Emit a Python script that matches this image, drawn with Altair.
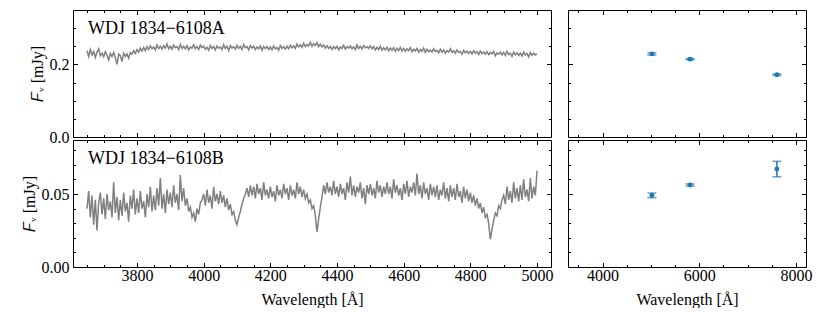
import altair as alt
import pandas as pd

FONT = "Liberation Serif"
GRAY = "#808080"
BLUE = "#1f77b4"

# ---------------- data ----------------
wl_start = 3650
wl_step = 5

flux_a = [
    0.238, 0.222, 0.241, 0.226, 0.236, 0.219, 0.234, 0.243, 0.224, 0.231,
    0.221, 0.235, 0.226, 0.212, 0.230, 0.222, 0.233, 0.218, 0.200, 0.228,
    0.224, 0.208, 0.231, 0.222, 0.229, 0.217, 0.233, 0.228, 0.238, 0.230,
    0.241, 0.234, 0.245, 0.237, 0.247, 0.238, 0.249, 0.241, 0.251, 0.243,
    0.248, 0.240, 0.254, 0.244, 0.250, 0.242, 0.252, 0.245, 0.256, 0.243,
    0.250, 0.242, 0.253, 0.246, 0.249, 0.241, 0.255, 0.244, 0.250, 0.243,
    0.252, 0.240, 0.248, 0.245, 0.254, 0.243, 0.249, 0.241, 0.253, 0.246,
    0.250, 0.242, 0.247, 0.239, 0.252, 0.244, 0.249, 0.240, 0.251, 0.245,
    0.248, 0.241, 0.254, 0.244, 0.250, 0.238, 0.252, 0.245, 0.249, 0.242,
    0.253, 0.244, 0.250, 0.241, 0.255, 0.246, 0.249, 0.240, 0.252, 0.245,
    0.250, 0.241, 0.248, 0.243, 0.251, 0.239, 0.249, 0.244, 0.250, 0.241,
    0.248, 0.240, 0.251, 0.243, 0.247, 0.239, 0.252, 0.244, 0.249, 0.242,
    0.250, 0.243, 0.253, 0.246, 0.251, 0.244, 0.256, 0.248, 0.254, 0.247,
    0.258, 0.249, 0.255, 0.251, 0.261, 0.250, 0.257, 0.252, 0.260, 0.249,
    0.256, 0.248, 0.254, 0.245, 0.252, 0.244, 0.250, 0.241, 0.249, 0.243,
    0.250, 0.240, 0.248, 0.244, 0.253, 0.242, 0.249, 0.245, 0.251, 0.243,
    0.248, 0.241, 0.254, 0.244, 0.250, 0.243, 0.252, 0.246, 0.249, 0.244,
    0.251, 0.243, 0.249, 0.240, 0.247, 0.241, 0.250, 0.239, 0.246, 0.240,
    0.248, 0.238, 0.245, 0.239, 0.246, 0.236, 0.244, 0.238, 0.247, 0.237,
    0.244, 0.236, 0.243, 0.238, 0.246, 0.235, 0.242, 0.237, 0.244, 0.234,
    0.241, 0.236, 0.245, 0.233, 0.242, 0.235, 0.240, 0.234, 0.243, 0.236,
    0.239, 0.232, 0.242, 0.234, 0.240, 0.231, 0.238, 0.234, 0.243, 0.233,
    0.238, 0.231, 0.240, 0.233, 0.236, 0.228, 0.239, 0.232, 0.237, 0.230,
    0.236, 0.229, 0.238, 0.231, 0.235, 0.227, 0.237, 0.230, 0.234, 0.228,
    0.235, 0.227, 0.233, 0.229, 0.236, 0.224, 0.232, 0.228, 0.234, 0.226,
    0.233, 0.225, 0.236, 0.227, 0.231, 0.222, 0.234, 0.226, 0.232, 0.225,
    0.231, 0.223, 0.234, 0.226, 0.230, 0.221, 0.233, 0.225, 0.231, 0.226,
    0.229,
]

flux_b = [
    0.040, 0.052, 0.034, 0.049, 0.029, 0.046, 0.025, 0.044, 0.051, 0.036,
    0.047, 0.033, 0.050, 0.039, 0.045, 0.034, 0.058, 0.037, 0.048, 0.032,
    0.046, 0.035, 0.051, 0.038, 0.044, 0.031, 0.049, 0.040, 0.053, 0.036,
    0.047, 0.037, 0.052, 0.040, 0.045, 0.034, 0.050, 0.041, 0.055, 0.038,
    0.049, 0.039, 0.054, 0.042, 0.061, 0.040, 0.050, 0.037, 0.053, 0.043,
    0.051, 0.041, 0.056, 0.044, 0.050, 0.039, 0.063, 0.045, 0.054, 0.042,
    0.047, 0.038, 0.041, 0.034, 0.037, 0.031, 0.040, 0.036, 0.044, 0.046,
    0.050, 0.042, 0.053, 0.044, 0.049, 0.040, 0.055, 0.045, 0.050, 0.043,
    0.052, 0.044, 0.049, 0.041, 0.047, 0.039, 0.043, 0.036, 0.038, 0.032,
    0.029, 0.034, 0.038, 0.043, 0.047, 0.050, 0.054, 0.048, 0.056, 0.049,
    0.055, 0.047, 0.057, 0.050, 0.054, 0.046, 0.058, 0.049, 0.053, 0.047,
    0.055, 0.048, 0.052, 0.045, 0.056, 0.049, 0.053, 0.047, 0.057, 0.050,
    0.054, 0.046, 0.056, 0.049, 0.053, 0.047, 0.058, 0.050, 0.055, 0.048,
    0.053, 0.047, 0.050, 0.044, 0.046, 0.040, 0.042, 0.035, 0.024, 0.033,
    0.041, 0.048, 0.056, 0.050, 0.058, 0.051, 0.055, 0.049, 0.059, 0.050,
    0.055, 0.048, 0.057, 0.050, 0.054, 0.046, 0.058, 0.051, 0.062, 0.049,
    0.056, 0.048, 0.055, 0.051, 0.058, 0.047, 0.054, 0.043, 0.056, 0.050,
    0.057, 0.049, 0.054, 0.047, 0.059, 0.051, 0.056, 0.048, 0.055, 0.050,
    0.058, 0.050, 0.055, 0.047, 0.060, 0.051, 0.056, 0.049, 0.054, 0.046,
    0.057, 0.050, 0.059, 0.048, 0.055, 0.051, 0.058, 0.049, 0.064, 0.050,
    0.056, 0.047, 0.058, 0.050, 0.054, 0.046, 0.057, 0.049, 0.055, 0.048,
    0.056, 0.046, 0.053, 0.049, 0.058, 0.047, 0.054, 0.045, 0.056, 0.048,
    0.054, 0.046, 0.057, 0.048, 0.052, 0.044, 0.055, 0.047, 0.053, 0.045,
    0.051, 0.044, 0.049, 0.042, 0.047, 0.040, 0.044, 0.037, 0.041, 0.034,
    0.036, 0.030, 0.019, 0.026, 0.032, 0.037, 0.035, 0.042, 0.040, 0.046,
    0.049, 0.043, 0.055, 0.046, 0.052, 0.044, 0.058, 0.047, 0.054, 0.045,
    0.056, 0.046, 0.060, 0.048, 0.053, 0.045, 0.061, 0.047, 0.055, 0.049,
    0.066,
]

wavelength = [wl_start + wl_step * i for i in range(len(flux_a))]

phot_wl = [5020, 5810, 7605]
phot_a = [0.2290, 0.2145, 0.1715]
err_a = [0.0030, 0.0018, 0.0020]
phot_b = [0.0491, 0.0562, 0.0671]
err_b = [0.0016, 0.0007, 0.0053]

labels = ["WDJ 1834\u22126108A", "WDJ 1834\u22126108B"]

# axis / scale settings
spec_x_domain = [3608, 5042]
phot_x_domain = [3285, 8207]
ya_domain = [0, 0.35]
yb_domain = [0, 0.087]

spec_major = [3800, 4000, 4200, 4400, 4600, 4800, 5000]
spec_minor = [3650 + 50 * i for i in range(28)]
phot_major = [4000, 6000, 8000]
phot_minor = [3500 + 500 * i for i in range(10)]
ya_major = [0.0, 0.2]
ya_minor = [0.05, 0.10, 0.15, 0.25, 0.30]
yb_major = [0.0, 0.05]
yb_minor = [0.01, 0.02, 0.03, 0.04, 0.06, 0.07, 0.08]

MAJ = 4.5
MIN = 2.5
W_SPEC, W_PHOT, H = 478, 238, 127


def tick_axis(orient, values, size, labels=False, fmt=None, title=None,
              title_pad=4, label_pad=4):
    kw = dict(orient=orient, values=values, tickSize=size, offset=-size,
              domain=False, grid=False, labels=labels, ticks=True,
              tickColor="black", tickWidth=1, minExtent=0)
    if labels:
        kw["labelPadding"] = label_pad
        kw["labelFont"] = FONT
        kw["labelFontSize"] = 16
        kw["labelColor"] = "black"
        if fmt:
            kw["format"] = fmt
    if title:
        kw["title"] = title
        kw["titlePadding"] = title_pad
        kw["titleFont"] = FONT
        kw["titleFontSize"] = 16
        kw["titleFontWeight"] = "normal"
        kw["titleColor"] = "black"
    else:
        kw["title"] = None
    return alt.Axis(**kw)


def axes_sets(xmaj, xmin, ymaj, ymin, show_x_labels, show_y_labels, yfmt):
    return [
        (tick_axis("bottom", xmaj, MAJ, labels=show_x_labels, fmt="d",
                   title="Wavelength [\u00c5]" if show_x_labels else None,
                   label_pad=0, title_pad=8),
         tick_axis("left", ymaj, MAJ, labels=show_y_labels, fmt=yfmt,
                   title="\U0001D439\u1D65 [mJy]" if show_y_labels else None,
                   label_pad=4, title_pad=4)),
        (tick_axis("bottom", xmin, MIN), tick_axis("left", ymin, MIN)),
        (tick_axis("top", xmaj, MAJ), tick_axis("right", ymaj, MAJ)),
        (tick_axis("top", xmin, MIN), tick_axis("right", ymin, MIN)),
    ]


def spec_panel(flux, ydom, ymaj, ymin, yfmt, label, bottom):
    df = pd.DataFrame({"wl": wavelength, "flux": flux})
    xs = alt.Scale(domain=spec_x_domain, nice=False, zero=False)
    ys = alt.Scale(domain=ydom, nice=False, zero=False)
    sets = axes_sets(spec_major, spec_minor, ymaj, ymin, bottom, True, yfmt)
    layers = []
    line = alt.Chart(df).mark_line(color=GRAY, strokeWidth=1.5, clip=True).encode(
        x=alt.X("wl:Q", scale=xs, axis=sets[0][0]),
        y=alt.Y("flux:Q", scale=ys, axis=sets[0][1]),
    )
    layers.append(line)
    for xa, ya in sets[1:]:
        layers.append(
            alt.Chart(df).mark_point(opacity=0, size=1, clip=True).encode(
                x=alt.X("wl:Q", scale=xs, axis=xa),
                y=alt.Y("flux:Q", scale=ys, axis=ya),
            )
        )
    text = alt.Chart(pd.DataFrame({"label": [label]})).mark_text(
        align="left", baseline="alphabetic", font=FONT, fontSize=18, color="black"
    ).encode(x=alt.value(15), y=alt.value(24), text="label:N")
    layers.append(text)
    return alt.layer(*layers).resolve_axis(x="independent", y="independent").properties(
        width=W_SPEC, height=H)


def phot_panel(vals, errs, ydom, ymaj, ymin, yfmt, bottom):
    df = pd.DataFrame({"wl": phot_wl, "flux": vals, "err": errs})
    xs = alt.Scale(domain=phot_x_domain, nice=False, zero=False)
    ys = alt.Scale(domain=ydom, nice=False, zero=False)
    sets = axes_sets(phot_major, phot_minor, ymaj, ymin, bottom, False, yfmt)
    base = alt.Chart(df).transform_calculate(
        lo="datum.flux - datum.err", hi="datum.flux + datum.err")
    rule = base.mark_rule(color=BLUE, strokeWidth=1.5).encode(
        x=alt.X("wl:Q", scale=xs, axis=sets[0][0]),
        y=alt.Y("lo:Q", scale=ys, axis=sets[0][1]),
        y2="hi:Q",
    )
    cap_lo = base.mark_tick(color=BLUE, orient="horizontal", size=9, thickness=1.5).encode(
        x=alt.X("wl:Q", scale=xs, axis=sets[1][0]),
        y=alt.Y("lo:Q", scale=ys, axis=sets[1][1]),
    )
    cap_hi = base.mark_tick(color=BLUE, orient="horizontal", size=9, thickness=1.5).encode(
        x=alt.X("wl:Q", scale=xs, axis=sets[2][0]),
        y=alt.Y("hi:Q", scale=ys, axis=sets[2][1]),
    )
    pts = base.mark_point(color=BLUE, filled=True, shape="circle", size=24, opacity=1).encode(
        x=alt.X("wl:Q", scale=xs, axis=sets[3][0]),
        y=alt.Y("flux:Q", scale=ys, axis=sets[3][1]),
    )
    return alt.layer(rule, cap_lo, cap_hi, pts).resolve_axis(
        x="independent", y="independent").properties(width=W_PHOT, height=H)


left = alt.vconcat(
    spec_panel(flux_a, ya_domain, ya_major, ya_minor, ".1f", labels[0], False),
    spec_panel(flux_b, yb_domain, yb_major, yb_minor, ".2f", labels[1], True),
    spacing=3, bounds="flush",
)
right = alt.vconcat(
    phot_panel(phot_a, err_a, ya_domain, ya_major, ya_minor, ".1f", False),
    phot_panel(phot_b, err_b, yb_domain, yb_major, yb_minor, ".2f", True),
    spacing=3, bounds="flush",
)

chart = alt.hconcat(left, right, spacing=13).properties(
    padding={"left": 12, "top": 1, "right": 5, "bottom": 0},
    background="white",
).configure_view(
    stroke="black", strokeWidth=1
).configure_axis(
    labelFont=FONT, labelFontSize=16, labelColor="black",
    titleFont=FONT, titleFontSize=16, titleFontWeight="normal", titleColor="black",
)

chart.save("out.html", embed_options={"renderer": "svg", "actions": False})
